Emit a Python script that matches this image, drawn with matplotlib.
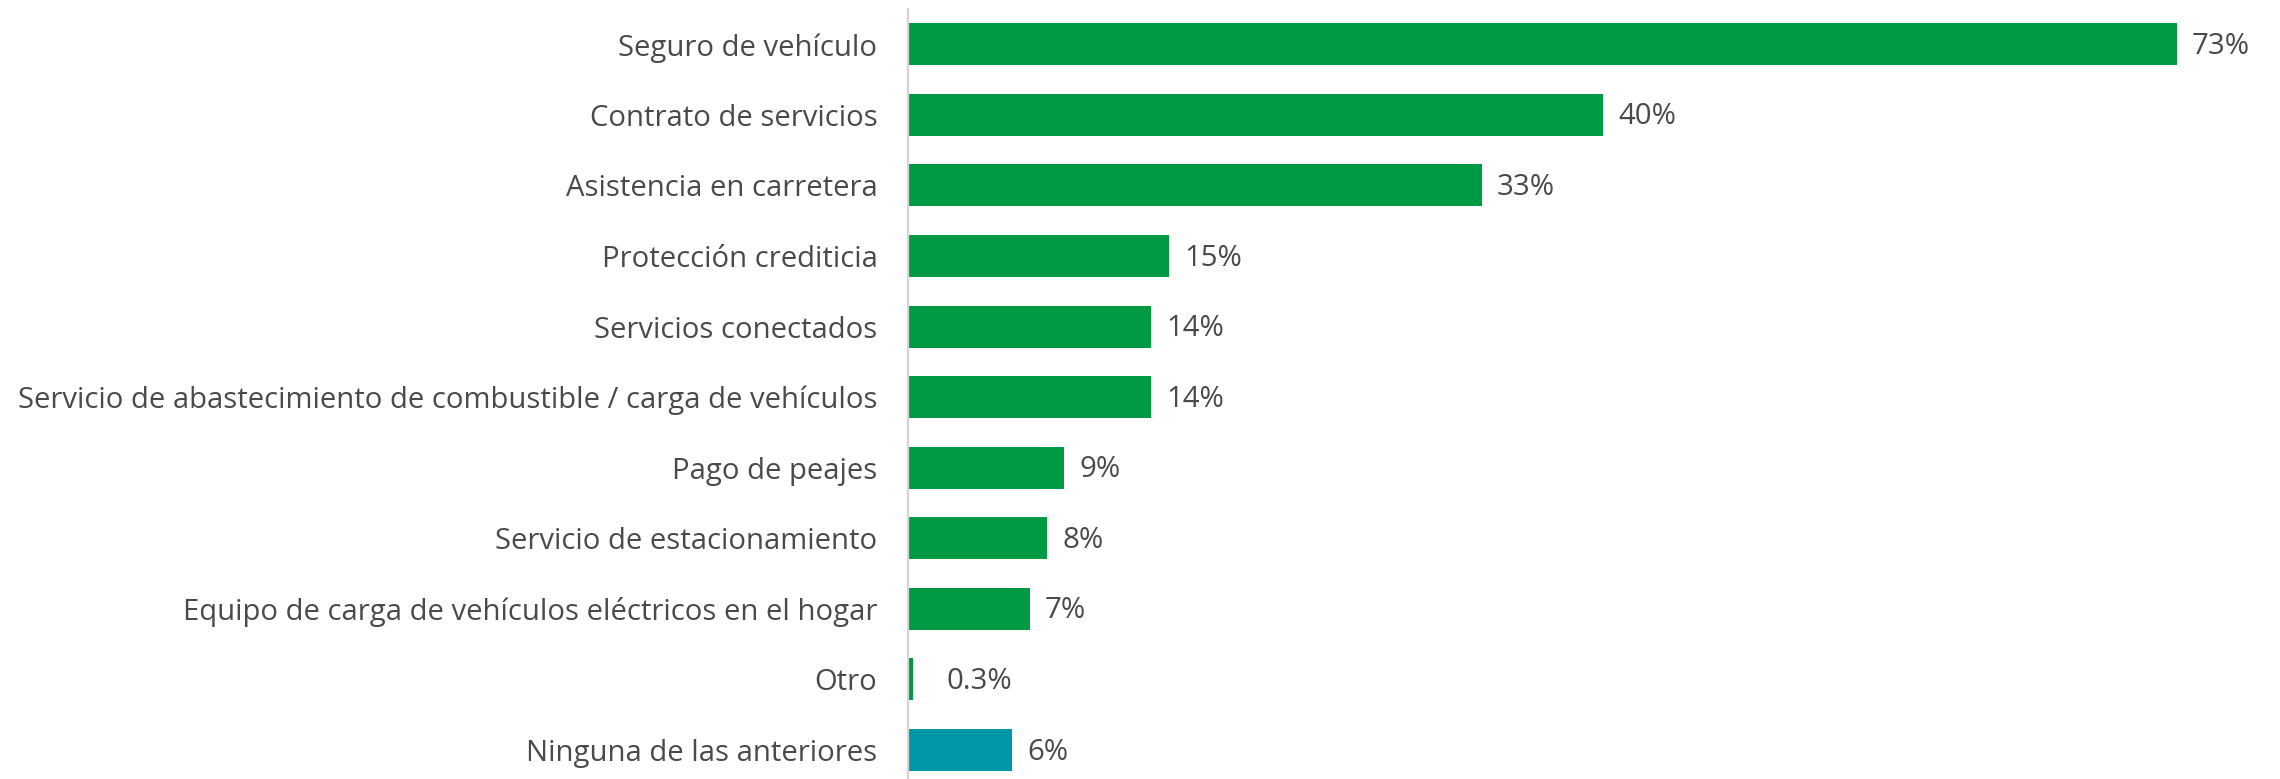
import matplotlib
matplotlib.use("Agg")
import matplotlib.pyplot as plt

categories = [
    "Seguro de vehículo",
    "Contrato de servicios",
    "Asistencia en carretera",
    "Protección crediticia",
    "Servicios conectados",
    "Servicio de abastecimiento de combustible / carga de vehículos",
    "Pago de peajes",
    "Servicio de estacionamiento",
    "Equipo de carga de vehículos eléctricos en el hogar",
    "Otro",
    "Ninguna de las anteriores",
]
values = [73, 40, 33, 15, 14, 14, 9, 8, 7, 0.3, 6]
labels = ["73%", "40%", "33%", "15%", "14%", "14%", "9%", "8%", "7%", "0.3%", "6%"]

GREEN = "#009A44"
TEAL = "#0098A9"
TEXT = "#4a4a4a"
colors = [GREEN] * (len(values) - 1) + [TEAL]

plt.rcParams["font.family"] = ["Open Sans", "DejaVu Sans"]

W, H, DPI = 2280, 779, 100
fig = plt.figure(figsize=(W / DPI, H / DPI), dpi=DPI)
ax_left = 908 / W
ax_right = 2280 / W
ax_bottom = 0.0
ax_top = 1 - 9 / H
ax = fig.add_axes([ax_left, ax_bottom, ax_right - ax_left, ax_top - ax_bottom])

y = list(range(len(categories)))
ax.barh(y, values, height=0.595, color=colors, zorder=2)

# x scale: ~17.38 px per percentage point
ax.set_xlim(0, (W - 908) / 17.38)
ax.set_ylim(10 + (779 - 750) / 70.6, -0.5)

for yi, v, lab in zip(y, values, labels):
    xpos = max(v, 1.35)
    ax.annotate(lab, xy=(xpos, yi), xytext=(11, -1.5), textcoords="offset points",
                va="center", ha="left", fontsize=21.2, color=TEXT)

ax.set_yticks(y)
ax.set_yticklabels(categories, fontsize=21.1, color=TEXT)
ax.tick_params(axis="y", length=0, pad=22)
ax.set_xticks([])

for s in ["top", "right", "bottom"]:
    ax.spines[s].set_visible(False)
ax.spines["left"].set_color("#d4d4d4")
ax.spines["left"].set_linewidth(1.6)

fig.savefig("out.png", dpi=DPI)
